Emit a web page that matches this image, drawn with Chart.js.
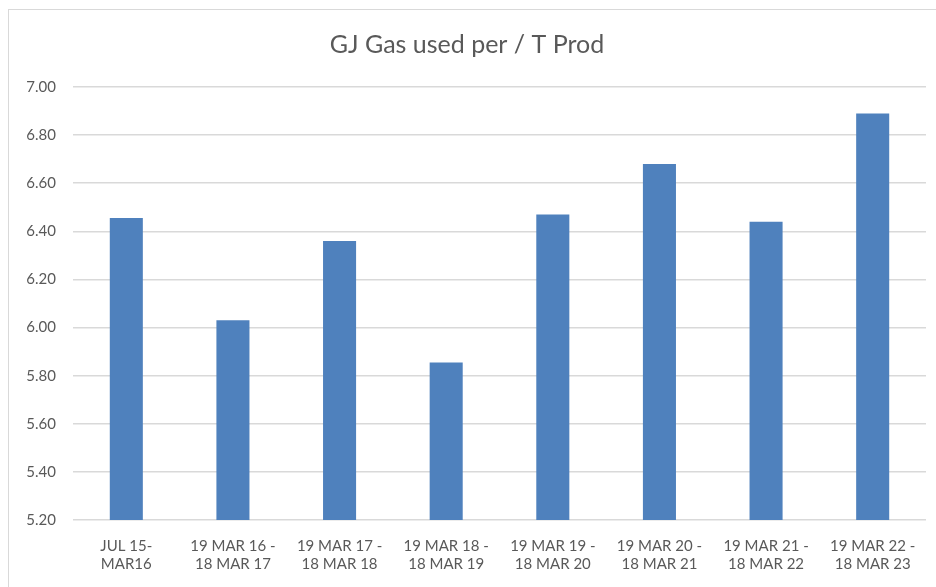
<!DOCTYPE html>
<html>
<head>
<meta charset="utf-8">
<script src="https://cdn.jsdelivr.net/npm/chart.js@4/dist/chart.umd.min.js"></script>
<style>
  body { margin: 0; background: #fff; }
  #frame { position: absolute; left: 8px; top: 9px; width: 940px; height: 600px; border: 1px solid #d9d9d9; }
  #wrap { position: absolute; left: 0; top: 0; width: 936px; height: 587px; }
</style>
</head>
<body>
<div id="frame"></div>
<div id="wrap"><canvas id="grafico" width="936" height="587"></canvas></div>
<script>
var periodos = [
    ['JUL 15-', 'MAR16'],
    ['19 MAR 16 -', '18 MAR 17'],
    ['19 MAR 17 -', '18 MAR 18'],
    ['19 MAR 18 -', '18 MAR 19'],
    ['19 MAR 19 -', '18 MAR 20'],
    ['19 MAR 20 -', '18 MAR 21'],
    ['19 MAR 21 -', '18 MAR 22'],
    ['19 MAR 22 -', '18 MAR 23']
];
var gjPorTonelada = [6.455, 6.03, 6.36, 5.855, 6.47, 6.68, 6.44, 6.89];
var eixoMin = 5.2;
var eixoMax = 7.0;
var passo = 0.2;

var fonte = 'Lato, "Open Sans", sans-serif';
var cinza = '#595959';

var grafico = new Chart(document.getElementById('grafico').getContext('2d'), {
    type: 'bar',
    data: {
        labels: periodos,
        datasets: [{
            label: 'GJ Gas used per / T Prod',
            data: gjPorTonelada,
            backgroundColor: '#4F81BD',
            borderWidth: 0,
            categoryPercentage: 1,
            barPercentage: 0.31
        }]
    },
    options: {
        responsive: false,
        animation: false,
        layout: { padding: { left: 8, right: 10, top: 9, bottom: 0 } },
        plugins: {
            legend: { display: false },
            tooltip: { enabled: false },
            title: {
                display: true,
                text: 'GJ Gas used per / T Prod',
                color: cinza,
                font: { family: fonte, size: 25, weight: 'normal' },
                padding: { top: 21, bottom: 27 }
            }
        },
        scales: {
            x: {
                grid: { display: false, drawTicks: false },
                border: { display: false },
                ticks: {
                    color: cinza,
                    font: { family: fonte, size: 15 },
                    padding: 17,
                    maxRotation: 0,
                    autoSkip: false
                },
                afterFit: function (s) { s.height = 67; }
            },
            y: {
                min: eixoMin,
                max: eixoMax,
                grid: { color: '#d9d9d9', lineWidth: 1.5, drawTicks: false },
                border: { display: false },
                ticks: {
                    stepSize: passo,
                    color: cinza,
                    font: { family: fonte, size: 15 },
                    padding: 17,
                    callback: function (v) { return Number(v).toFixed(2); }
                },
                afterFit: function (s) { s.width = 65; }
            }
        }
    }
});
</script>
</body>
</html>
